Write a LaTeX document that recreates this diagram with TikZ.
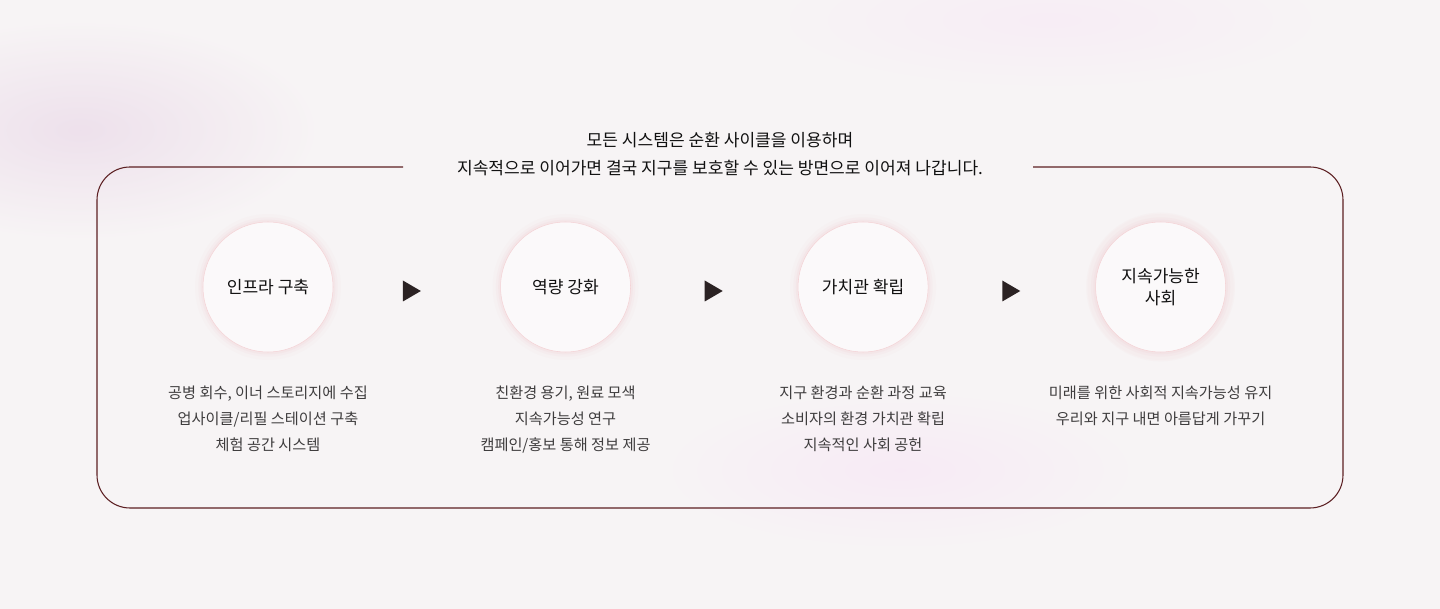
\documentclass[tikz,border=0pt]{standalone}
\usepackage{fontspec}
\setmainfont{Noto Sans CJK KR}
\usetikzlibrary{positioning,shapes.geometric}
\definecolor{pagebg}{HTML}{F7F4F5}
\definecolor{framecol}{HTML}{5C1F22}
\definecolor{tricol}{HTML}{2B2223}
\definecolor{headcol}{HTML}{111111}
\definecolor{notecol}{HTML}{3F3D3E}
\definecolor{glowpink}{HTML}{EDB5BA}
\definecolor{discfill}{HTML}{FBF9FA}

\begin{document}
\begin{tikzpicture}[x=0.75pt, y=-0.75pt,
    stage/.style={circle, fill=discfill, draw=glowpink!60, line width=0.4pt, minimum size=97.5pt, inner sep=0, align=center,
        font=\fontsize{12.8}{17}\selectfont, text=headcol,
        preaction={draw=glowpink, line width=12pt, draw opacity=0.04},
        preaction={draw=glowpink, line width=7pt, draw opacity=0.07},
        preaction={draw=glowpink, line width=3.5pt, draw opacity=0.1}},
    strong/.style={preaction={draw=glowpink, line width=14pt, draw opacity=0.06}},
    tri/.style={isosceles triangle, isosceles triangle stretches, fill=tricol, minimum width=15.75pt, minimum height=13.5pt, inner sep=0},
    note/.style={align=center, inner sep=0, font=\fontsize{11.4}{19.5}\selectfont, text=notecol},
    headline/.style={align=center, inner sep=0, font=\fontsize{12.8}{21}\selectfont, text=headcol}
]
% page and soft background glows
\fill[pagebg] (0,0) rectangle (1440,609);
\useasboundingbox (0,0) rectangle (1440,609);
\shade[inner color=violet!8!pagebg, outer color=pagebg] (80,130) ellipse [x radius=240, y radius=110];
\shade[inner color=magenta!4!pagebg, outer color=pagebg] (900,470) ellipse [x radius=240, y radius=80];
\shade[inner color=magenta!3!pagebg, outer color=pagebg] (1050,20) ellipse [x radius=280, y radius=70];

% title and frame
\node[headline] (title) at (720,154) {모든 시스템은 순환 사이클을 이용하며\\지속적으로 이어가면 결국 지구를 보호할 수 있는 방면으로 이어져 나갑니다.};
\coordinate (gapL) at (403,167);
\coordinate (gapR) at (1033,167);
\draw[framecol, line width=0.8pt, rounded corners=24.75pt] (gapL) -- (97,167) -- (97,508) -- (1343,508) -- (1343,167) -- (gapR);

% stages
\node[stage] (infra) at (268,287) {인프라 구축};
\node[stage, right=125.25pt of infra] (capacity) {역량 강화};
\node[stage, right=125.25pt of capacity] (value) {가치관 확립};
\node[stage, strong, right=125.25pt of value] (society) {지속가능한\\사회};

\node[tri, right=52pt of infra, yshift=-3pt] (arrA) {};
\node[tri, right=55.25pt of capacity, yshift=-3pt] (arrB) {};
\node[tri, right=55.25pt of value, yshift=-3pt] (arrC) {};

% descriptions
\node[note, below=25pt of infra] (infraNote) {공병 회수, 이너 스토리지에 수집\\업사이클/리필 스테이션 구축\\체험 공간 시스템};
\node[note, below=25pt of capacity] (capacityNote) {친환경 용기, 원료 모색\\지속가능성 연구\\캠페인/홍보 통해 정보 제공};
\node[note, below=25pt of value] (valueNote) {지구 환경과 순환 과정 교육\\소비자의 환경 가치관 확립\\지속적인 사회 공헌};
\node[note, below=25pt of society] (societyNote) {미래를 위한 사회적 지속가능성 유지\\우리와 지구 내면 아름답게 가꾸기};
\end{tikzpicture}
\end{document}
